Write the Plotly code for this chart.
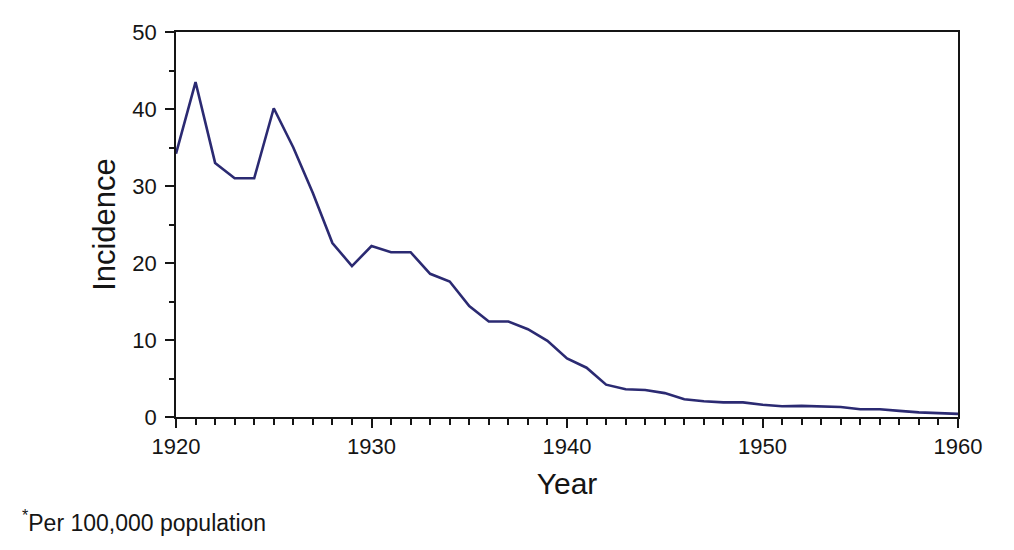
import plotly.graph_objects as go

years = list(range(1920, 1961))
incidence = [34.2, 43.5, 33.0, 31.0, 31.0, 40.1, 35.0, 29.1, 22.6, 19.6,
             22.2, 21.4, 21.4, 18.6, 17.6, 14.4, 12.4, 12.4, 11.4, 9.9,
             7.6, 6.4, 4.2, 3.6, 3.5, 3.1, 2.3, 2.05, 1.9, 1.9,
             1.6, 1.4, 1.45, 1.4, 1.3, 1.0, 1.0, 0.8, 0.6, 0.5,
             0.4]
x_ticks = [1920, 1930, 1940, 1950, 1960]
y_ticks = [0, 10, 20, 30, 40, 50]

font = "Liberation Sans, Arial, sans-serif"
ink = "#151515"

fig = go.Figure()
fig.add_trace(go.Scatter(x=years, y=incidence, mode="lines",
                         line=dict(color="#2b2a72", width=2.6),
                         showlegend=False, hoverinfo="skip"))

fig.update_layout(
    width=998, height=534,
    margin=dict(l=168, r=48, t=19, b=125),
    paper_bgcolor="white", plot_bgcolor="white",
    font=dict(family=font, color=ink),
    xaxis=dict(range=[1920, 1960], tickvals=x_ticks, ticktext=[str(v) for v in x_ticks],
               showgrid=False, zeroline=False, showline=True, linecolor=ink,
               linewidth=1.6, mirror=True, ticks="outside", ticklen=9, tickwidth=1.6,
               tickcolor=ink, tickfont=dict(size=22),
               minor=dict(dtick=1, ticks="outside", ticklen=6, tickwidth=1.5, tickcolor=ink),
               title=dict(text="Year", font=dict(size=30), standoff=15)),
    yaxis=dict(range=[0, 50], tickvals=y_ticks, ticktext=[str(v) for v in y_ticks],
               showgrid=False, zeroline=False, showline=True, linecolor=ink,
               linewidth=1.6, mirror=True, ticks="outside", ticklen=9, tickwidth=1.6,
               tickcolor=ink, tickfont=dict(size=22), ticklabelstandoff=4,
               minor=dict(dtick=5, ticks="outside", ticklen=5, tickwidth=1.5, tickcolor=ink),
               title=dict(text="Incidence", font=dict(size=31), standoff=7)),
)

fig.add_annotation(text="<sup>*</sup>Per 100,000 population", xref="paper", yref="paper",
                   x=-0.1995, y=-0.269, xanchor="left", yanchor="middle", showarrow=False,
                   font=dict(size=23, family=font, color=ink))

fig.write_html("out.html")
